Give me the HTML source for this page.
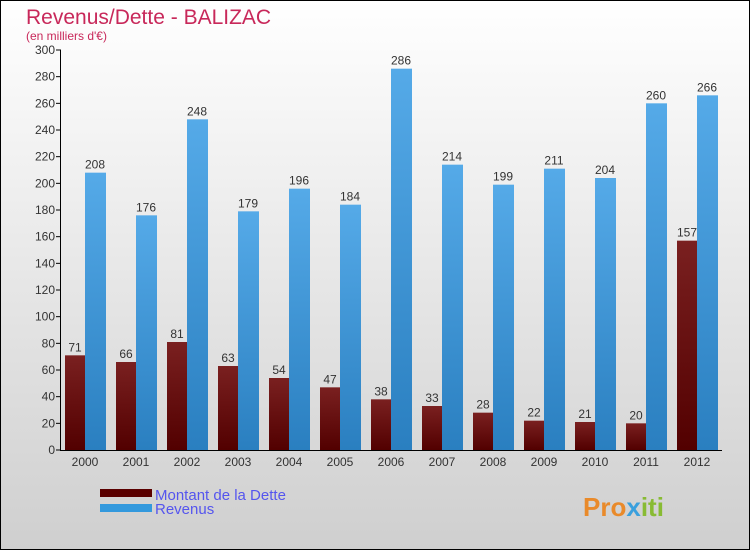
<!DOCTYPE html>
<html><head><meta charset="utf-8"><style>
body{margin:0;width:750px;height:550px;overflow:hidden;font-family:"Liberation Sans",sans-serif}
</style></head><body>
<svg id="c" width="750" height="550" xmlns="http://www.w3.org/2000/svg">
<defs>
<linearGradient id="bg" x1="0" y1="0" x2="0" y2="1"><stop offset="0" stop-color="#ffffff"/><stop offset="1" stop-color="#cfcfcf"/></linearGradient>
<linearGradient id="gd" x1="0" y1="0" x2="0" y2="1"><stop offset="0" stop-color="#7a2020"/><stop offset="1" stop-color="#520000"/></linearGradient>
<linearGradient id="gr" x1="0" y1="0" x2="0" y2="1"><stop offset="0" stop-color="#55aae8"/><stop offset="1" stop-color="#2a7fc0"/></linearGradient>
</defs>
<rect x="0.5" y="0.5" width="749" height="549" fill="url(#bg)" stroke="#000"/>
<text x="26" y="24" font-size="21" fill="#c8285a">Revenus/Dette - BALIZAC</text>
<text x="26" y="40" font-size="12" fill="#c8285a">(en milliers d'€)</text>
<g id="plot"></g>
<rect x="100" y="489" width="52" height="8" fill="#5a0000"/>
<rect x="100" y="504" width="52" height="8" fill="#3399dd"/>
<text x="155" y="500" font-size="15" fill="#5555ee">Montant de la Dette</text>
<text x="155" y="514" font-size="15" fill="#5555ee">Revenus</text>
<text x="583" y="516" font-size="26" font-weight="bold" fill="#e98a2a">Pro<tspan fill="#3aa0dd">x</tspan><tspan fill="#88bb33">iti</tspan></text>
</svg>
<script>
const years=["2000","2001","2002","2003","2004","2005","2006","2007","2008","2009","2010","2011","2012"];
const dette=[71,66,81,63,54,47,38,33,28,22,21,20,157];
const revenus=[208,176,248,179,196,184,286,214,199,211,204,260,266];
const ticks=[0,20,40,60,80,100,120,140,160,180,200,220,240,260,280,300];
const NS="http://www.w3.org/2000/svg";
const g=document.getElementById('plot');
const y=v=>450-v*400/300;
const xc=i=>85+i*51;
function mk(t,a,txt){const e=document.createElementNS(NS,t);for(const k in a)e.setAttribute(k,a[k]);if(txt!=null)e.textContent=txt;g.appendChild(e);return e;}
ticks.forEach(t=>{
 const l=mk('line',{x1:56,x2:61,y1:y(t),y2:y(t),stroke:'#000'});
 
 
 const tx=mk('text',{x:55,y:y(t)+4,'font-size':12,'text-anchor':'end',fill:'#333'},t);
 
 
});
years.forEach((yr,i)=>{
 const c=xc(i);
 const b1=mk('rect',{x:c-20,y:y(dette[i]),width:20,height:450-y(dette[i]),fill:'url(#gd)'});
 
 
 const b2=mk('rect',{x:c,y:y(revenus[i]),width:21,height:450-y(revenus[i]),fill:'url(#gr)'});
 
 
 const v1=mk('text',{x:c-10,y:y(dette[i])-4,'font-size':12,'text-anchor':'middle',fill:'#333'},dette[i]);
 
 
 const v2=mk('text',{x:c+10,y:y(revenus[i])-4,'font-size':12,'text-anchor':'middle',fill:'#333'},revenus[i]);
 
 
 const xl=mk('text',{x:c,y:466,'font-size':12,'text-anchor':'middle',fill:'#333'},yr);
 
 
});
const ya=mk('line',{x1:60.5,x2:60.5,y1:50,y2:450,stroke:'#000'});


const xa=mk('line',{x1:60,x2:722,y1:450.5,y2:450.5,stroke:'#000'});


</script>
</body></html>
